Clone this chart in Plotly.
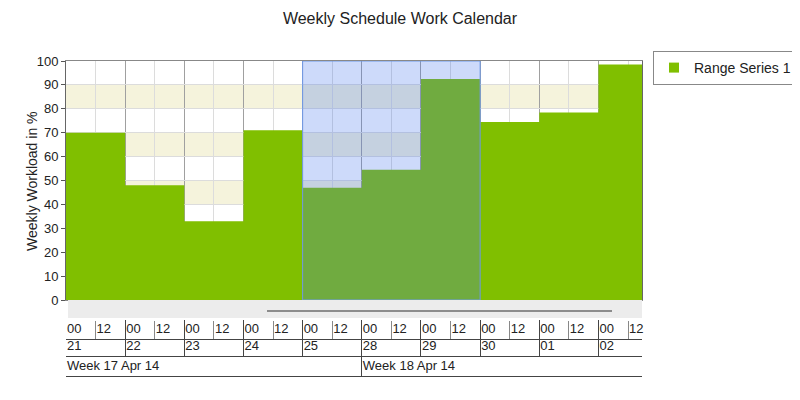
import pandas as pd
import plotly.graph_objects as go

# working days shown (weekend 26/27 Apr is skipped by the calendar)
days = ["2014-04-21", "2014-04-22", "2014-04-23", "2014-04-24", "2014-04-25",
        "2014-04-28", "2014-04-29", "2014-04-30", "2014-05-01", "2014-05-02"]
workload = [70, 48, 33, 71, 47, 54.5, 92.5, 74.5, 78.5, 98.5]

hour_labels = ["00", "12"]
week_starts = ["2014-04-21", "2014-04-28"]
week_labels = ["Week 17 Apr 14", "Week 18 Apr 14"]

highlight = ["2014-04-25", "2014-04-30"]
view = ["2014-04-21 00:00", "2014-05-02 17:40"]
bands = [(0, 10), (20, 30), (40, 50), (60, 70), (80, 90)]

GREEN = "#80bf00"
FONT = "Liberation Sans, Arial, sans-serif"

day_ts = pd.to_datetime(days)
# hold every value to the end of its day
xs = list(day_ts) + [day_ts[-1] + pd.Timedelta(hours=23, minutes=59)]
ys = workload + [workload[-1]]
half_days = [d + pd.Timedelta(hours=h) for d in day_ts for h in (0, 12)]

# the page body adds an 8px offset, so the figure is drawn 8px smaller
OFF = 8
W, H = 800 - OFF, 400 - OFF
LEFT, RIGHT, TOP, BOTTOM = 66, 642, 61, 380   # paper area in screen pixels


def py(pix):
    # screen row -> paper fraction
    return (BOTTOM - pix) / (BOTTOM - TOP)


def px(pix):
    # screen column -> paper fraction
    return (pix - LEFT) / (RIGHT - LEFT)


breaks = [dict(bounds=["sat", "mon"])]

fig = go.Figure()
fig.add_trace(go.Scatter(x=xs, y=ys, mode="lines", line=dict(width=0, shape="hv"),
                         fill="tozeroy", fillcolor=GREEN, showlegend=False,
                         hoverinfo="skip"))
# legend entry as a plain square
fig.add_trace(go.Scatter(x=[None], y=[None], mode="markers", name="Range Series 1",
                         marker=dict(symbol="square", size=10, color=GREEN)))
# empty traces so the label rows under the plot get drawn
for ax in ["x2", "x3", "x4"]:
    fig.add_trace(go.Scatter(x=[view[0]], y=[None], xaxis=ax, yaxis="y",
                             mode="lines", showlegend=False, hoverinfo="skip"))

for lo, hi in bands:
    fig.add_shape(type="rect", xref="paper", yref="y", x0=0, x1=1, y0=lo, y1=hi,
                  fillcolor="#f5f3dc", line_width=0, layer="below")

fig.add_shape(type="rect", xref="x", yref="y", x0=highlight[0], x1=highlight[1],
              y0=0, y1=100, fillcolor="rgba(70,120,235,0.27)",
              line=dict(color="#6f9ae8", width=1), layer="above")

# scrollbar strip under the plot
fig.add_shape(type="rect", xref="paper", yref="paper", x0=px(68), x1=1, y0=py(318), y1=py(300),
              fillcolor="#ececec", line_width=0)
fig.add_shape(type="line", xref="paper", yref="paper", x0=px(267), x1=px(612),
              y0=py(311), y1=py(311), line=dict(color="#8c8c8c", width=2))

fig.add_annotation(text="Weekly Workload in %", xref="paper", yref="paper",
                   x=px(32), y=py(181), textangle=-90, showarrow=False,
                   xanchor="center", yanchor="middle",
                   font=dict(family=FONT, size=14, color="#222"))

tick_font = dict(family=FONT, size=13, color="#222")
row_common = dict(type="date", range=view, rangebreaks=breaks, overlaying="x", anchor="free",
                  tickmode="array", ticks="inside", ticklabelposition="outside right",
                  ticklabelstandoff=-23,
                  showline=True, linecolor="#444", linewidth=1, showgrid=False,
                  zeroline=False, tickfont=tick_font, automargin=False)

fig.update_layout(
    width=W, height=H,
    margin=dict(l=LEFT - OFF, r=W - (RIGHT - OFF), t=TOP - OFF, b=H - (BOTTOM - OFF),
                autoexpand=False),
    paper_bgcolor="white", plot_bgcolor="white",
    font=dict(family=FONT, color="#222"),
    title=dict(text="Weekly Schedule Work Calendar", x=(400 - OFF) / W, xref="container",
               y=1 - (18 - OFF) / H, yanchor="middle", font=dict(size=16, color="#222")),
    xaxis=dict(type="date", range=view, rangebreaks=breaks, tickmode="array",
               tickvals=day_ts, showticklabels=False, ticks="",
               showgrid=True, gridcolor="#a0a0a0",
               minor=dict(tickmode="array", tickvals=half_days, showgrid=True,
                          gridcolor="#dcdcdc"),
               showline=True, linecolor="#888", mirror=True, zeroline=False,
               automargin=False),
    yaxis=dict(domain=[py(300), 1], range=[0, 100], dtick=10, ticks="outside",
               ticklen=4, tickcolor="#555", showline=True, linecolor="#666",
               mirror=True, gridcolor="#dcdcdc", zeroline=False, tickfont=tick_font,
               automargin=False),
    xaxis2=dict(row_common, position=py(339), tickvals=half_days,
                ticktext=hour_labels * len(days), ticklen=18, tickcolor="#888"),
    xaxis3=dict(row_common, position=py(356), tickvals=day_ts, tickformat="%d",
                ticklen=36, tickcolor="#444"),
    xaxis4=dict(row_common, position=py(376), tickvals=week_starts,
                ticktext=week_labels, ticklen=20, tickcolor="#444"),
    legend=dict(xref="container", yref="container", x=(653 - OFF) / W,
                y=1 - (51 - OFF) / H, xanchor="left", yanchor="top",
                bordercolor="#888", borderwidth=1, font=dict(size=14, color="#222")),
)

fig.write_html("out.html")
